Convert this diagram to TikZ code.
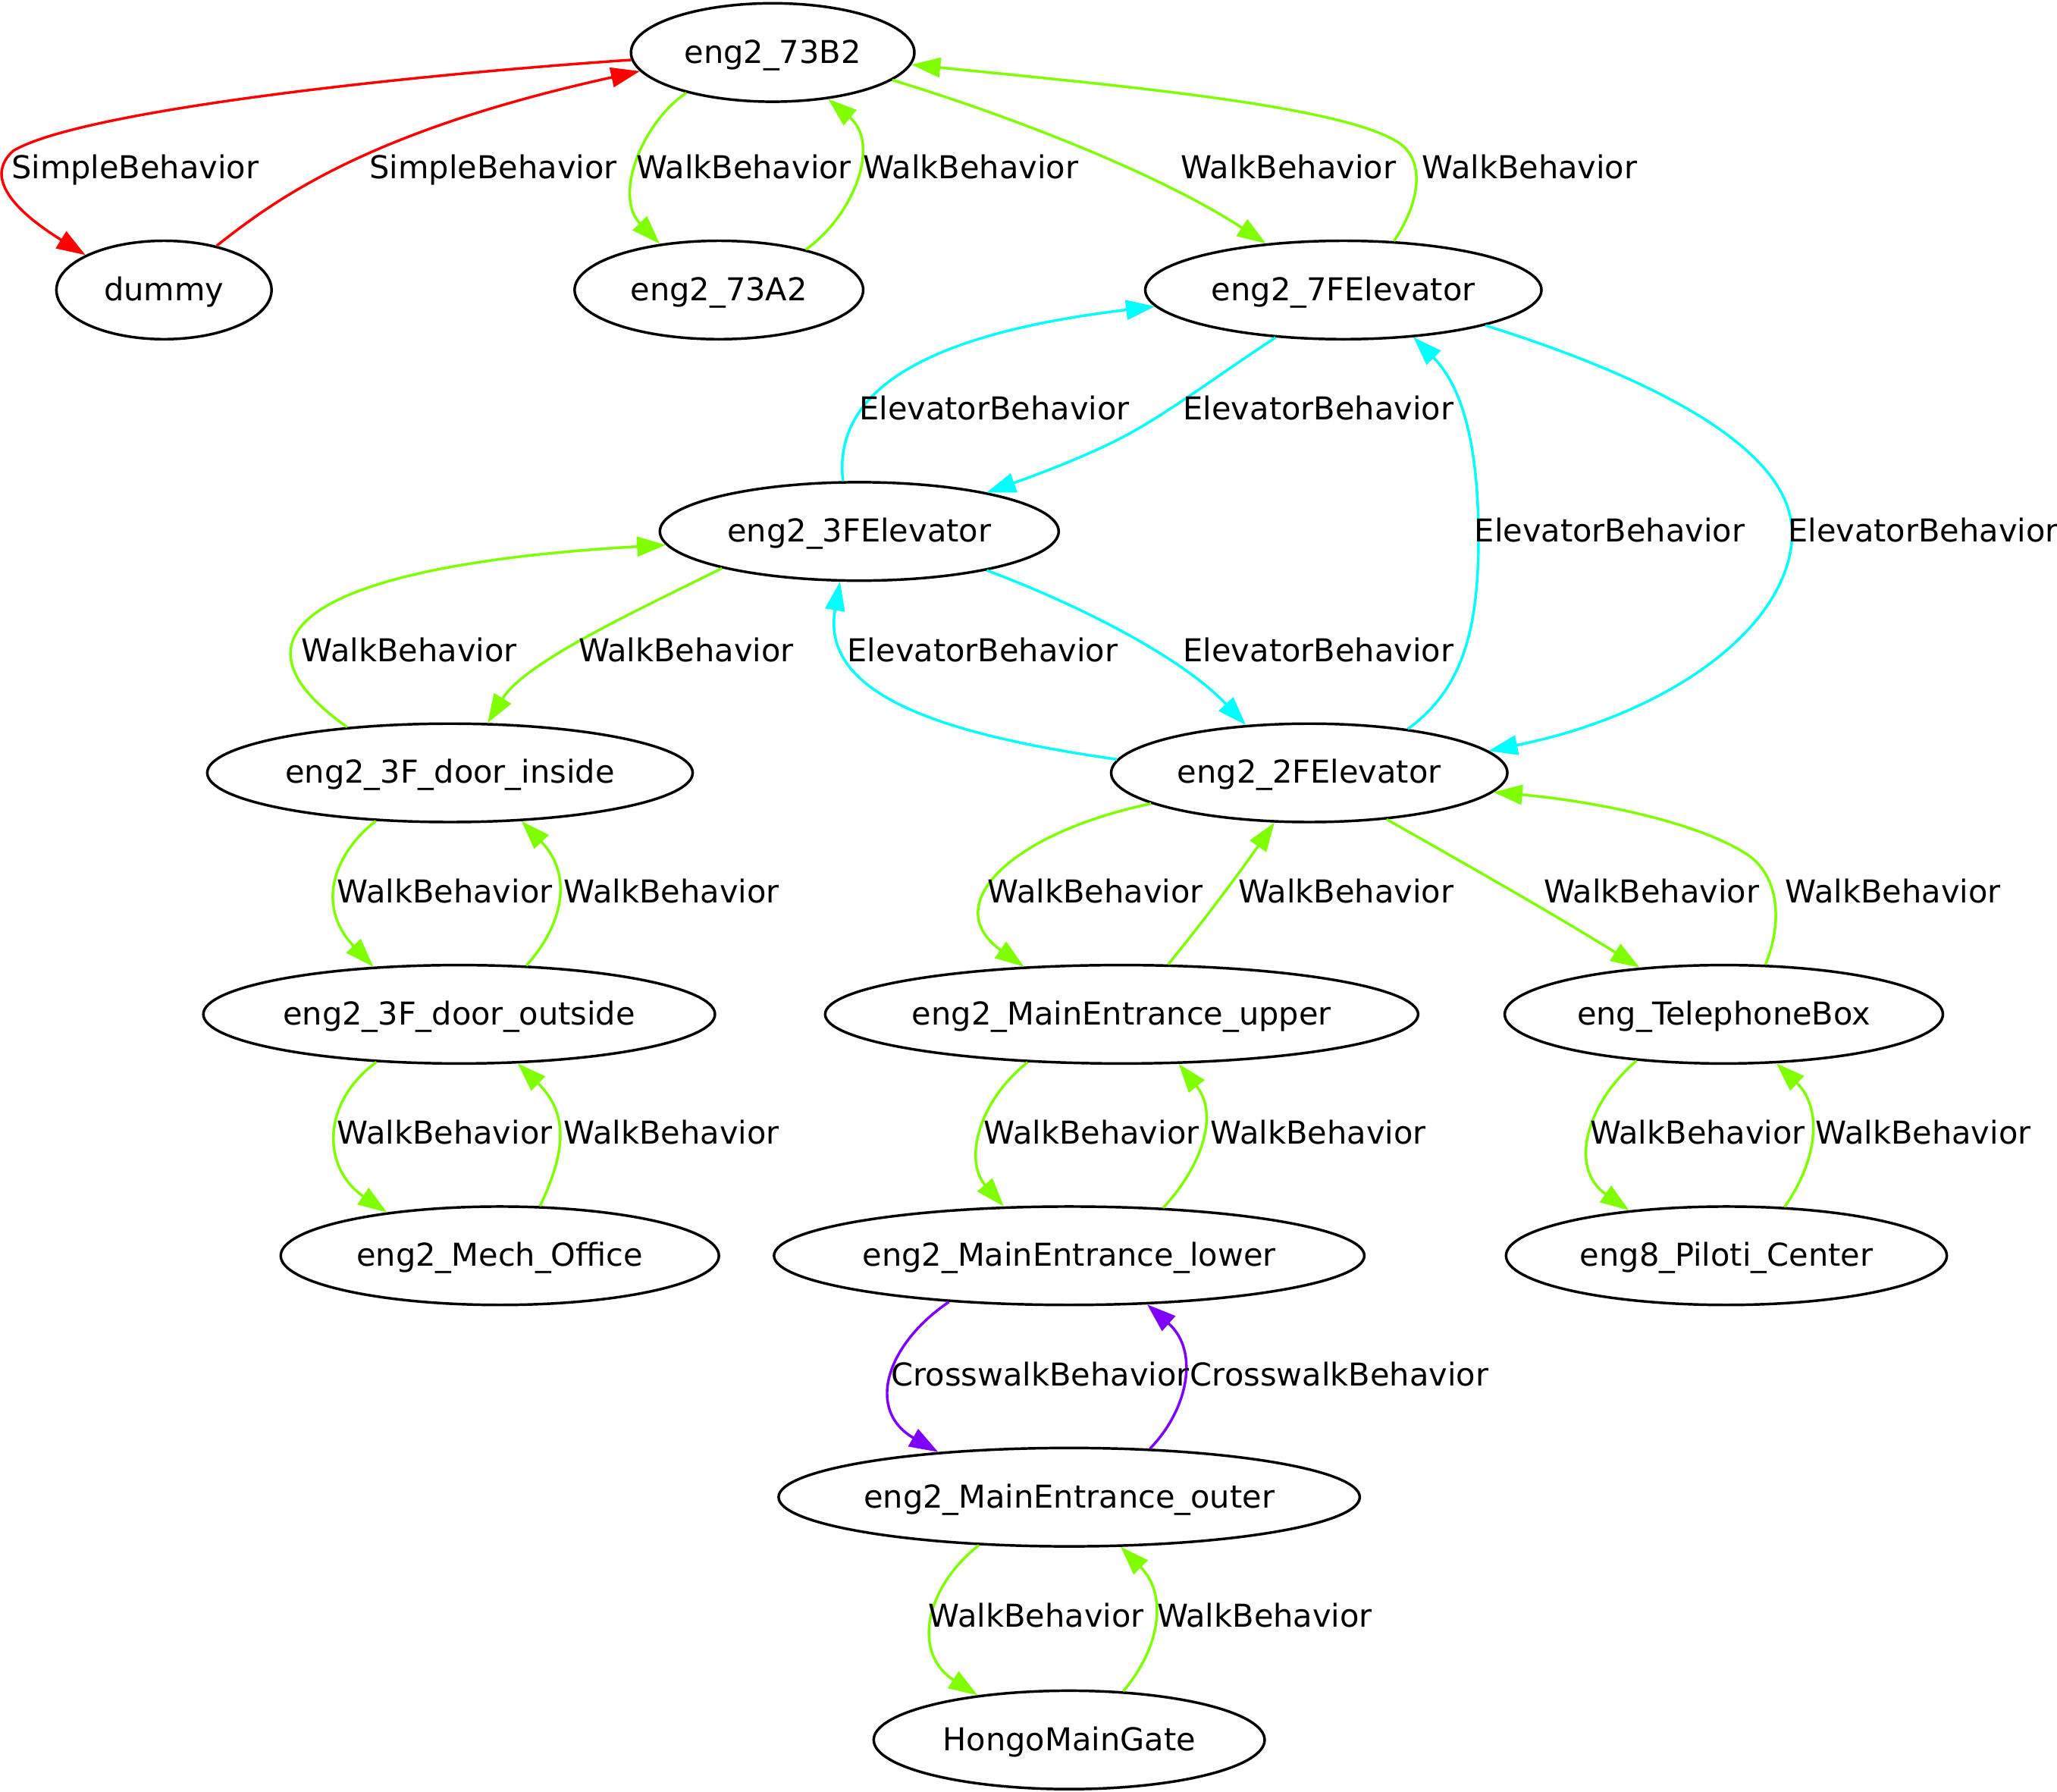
\documentclass[tikz,border=0pt]{standalone}
\usepackage{fontspec}
\setmainfont{DejaVu Sans}
\usetikzlibrary{arrows.meta,shapes.geometric}
\definecolor{gvred}{RGB}{255,0,0}
\definecolor{gvgreen}{RGB}{127,255,0}
\definecolor{gvcyan}{RGB}{0,255,255}
\definecolor{gvpurple}{RGB}{127,0,255}
\begin{document}
\begin{tikzpicture}[x=0.5pt,y=-0.5pt,
  st/.style={ellipse,draw,line width=1pt,inner sep=0pt,minimum height=37.5pt,
    font=\fontsize{12}{14}\selectfont,text height=10pt,text depth=2pt},
  lbl/.style={inner sep=0pt,font=\fontsize{12}{14}\selectfont,text height=10pt,text depth=2pt},
  conn/.style={line width=1pt,-{Triangle[length=11pt,width=7.5pt]}},
  rd/.style={conn,gvred},
  gr/.style={conn,gvgreen},
  cy/.style={conn,gvcyan},
  pu/.style={conn,gvpurple}]
\path[fill=white,use as bounding box] (0,0) rectangle (1568,1365.7);
% nodes
\node[st,minimum width=108pt] (n73B2) at (589,40) {eng2\_73B2};
\node[st,minimum width=82pt] (dummy) at (125,221) {dummy};
\node[st,minimum width=110pt] (n73A2) at (548,221) {eng2\_73A2};
\node[st,minimum width=151pt] (n7F) at (1024,221) {eng2\_7FElevator};
\node[st,minimum width=152pt] (n3F) at (655,405) {eng2\_3FElevator};
\node[st,minimum width=185pt] (din) at (343,589) {eng2\_3F\_door\_inside};
\node[st,minimum width=151pt] (n2F) at (998,589) {eng2\_2FElevator};
\node[st,minimum width=195pt] (dout) at (350,773) {eng2\_3F\_door\_outside};
\node[st,minimum width=225pt] (mup) at (855,773) {eng2\_MainEntrance\_upper};
\node[st,minimum width=167pt] (tel) at (1314,773) {eng\_TelephoneBox};
\node[st,minimum width=167pt] (mech) at (381,957) {eng2\_Mech\_Office};
\node[st,minimum width=225pt] (mlow) at (815,957) {eng2\_MainEntrance\_lower};
\node[st,minimum width=168pt] (pil) at (1316,957) {eng8\_Piloti\_Center};
\node[st,minimum width=221pt] (mout) at (815,1141) {eng2\_MainEntrance\_outer};
\node[st,minimum width=149pt] (hongo) at (815,1326) {HongoMainGate};
% edges
\draw[rd] (n73B2.183) .. controls (300,58) and (60,85) .. (10,115) .. controls (-12,135) and (10,160) .. (dummy.156);
\draw[rd] (dummy.40) .. controls (210,152) and (280,100) .. (n73B2.188);
\draw[gr] (n73B2.205) .. controls (488,95) and (468,150) .. (n73A2.142);
\draw[gr] (n73A2.25) .. controls (650,165) and (672,110) .. (n73B2.320);
\draw[gr] (n73B2.347) .. controls (760,85) and (880,130) .. (n7F.149);
\draw[gr] (n7F.44) .. controls (1085,150) and (1085,120) .. (1065,108) .. controls (1020,80) and (850,65) .. (n73B2.355);
\draw[cy] (n3F.108) .. controls (635,300) and (700,255) .. (n7F.185);
\draw[cy] (n7F.215) .. controls (930,285) and (890,315) .. (858,332) .. controls (830,347) and (790,362) .. (n3F.17);
\draw[cy] (n2F.24) .. controls (1115,525) and (1127,480) .. (1127,410) .. controls (1127,340) and (1115,295) .. (n7F.326);
\draw[cy] (n7F.346) .. controls (1250,285) and (1370,340) .. (1366,410) .. controls (1362,480) and (1270,545) .. (n2F.7);
\draw[gr] (n3F.195) .. controls (480,468) and (400,505) .. (din.53);
\draw[gr] (din.156) .. controls (160,480) and (250,430) .. (n3F.184);
\draw[cy] (n2F.176) .. controls (720,560) and (625,530) .. (n3F.249);
\draw[cy] (n3F.343) .. controls (820,460) and (900,500) .. (n2F.143);
\draw[gr] (din.213) .. controls (255,650) and (240,690) .. (dout.151);
\draw[gr] (dout.36) .. controls (425,710) and (440,670) .. (din.326);
\draw[gr] (dout.210) .. controls (245,840) and (245,890) .. (mech.159);
\draw[gr] (mech.51) .. controls (430,880) and (435,850) .. (dout.320);
\draw[gr] (n2F.191) .. controls (770,635) and (715,690) .. (mup.154);
\draw[gr] (mup.47) .. controls (915,705) and (945,665) .. (n2F.235);
\draw[gr] (n2F.329) .. controls (1120,660) and (1190,700) .. (tel.151);
\draw[gr] (tel.50) .. controls (1360,700) and (1355,665) .. (1330,650) .. controls (1290,625) and (1210,610) .. (n2F.354);
\draw[gr] (mup.207) .. controls (745,840) and (735,885) .. (mlow.143);
\draw[gr] (mlow.27) .. controls (915,890) and (930,850) .. (mup.319);
\draw[gr] (tel.208) .. controls (1210,840) and (1195,890) .. (pil.155);
\draw[gr] (pil.40) .. controls (1385,885) and (1390,845) .. (tel.317);
\draw[pu] (mlow.201) .. controls (675,1025) and (660,1075) .. (mout.161);
\draw[pu] (mout.31) .. controls (905,1075) and (915,1030) .. (mlow.328);
\draw[gr] (mout.208) .. controls (705,1210) and (695,1260) .. (hongo.154);
\draw[gr] (hongo.42) .. controls (885,1255) and (890,1215) .. (mout.316);
% labels
\node[lbl] (l1) at (103,128) {SimpleBehavior};
\node[lbl] (l2) at (376,128) {SimpleBehavior};
\node[lbl] (l3) at (567,128) {WalkBehavior};
\node[lbl] (l4) at (740,128) {WalkBehavior};
\node[lbl] (l5) at (982,128) {WalkBehavior};
\node[lbl] (l6) at (1166,128) {WalkBehavior};
\node[lbl] (l7) at (758,312) {ElevatorBehavior};
\node[lbl] (l8) at (1005,312) {ElevatorBehavior};
\node[lbl] (l9) at (1227,405) {ElevatorBehavior};
\node[lbl] (l10) at (1466,405) {ElevatorBehavior};
\node[lbl] (l11) at (312,496) {WalkBehavior};
\node[lbl] (l12) at (523,496) {WalkBehavior};
\node[lbl] (l13) at (749,496) {ElevatorBehavior};
\node[lbl] (l14) at (1005,496) {ElevatorBehavior};
\node[lbl] (l15) at (339,680) {WalkBehavior};
\node[lbl] (l16) at (512,680) {WalkBehavior};
\node[lbl] (l17) at (835,680) {WalkBehavior};
\node[lbl] (l18) at (1026,680) {WalkBehavior};
\node[lbl] (l19) at (1259,680) {WalkBehavior};
\node[lbl] (l20) at (1443,680) {WalkBehavior};
\node[lbl] (l21) at (339,864) {WalkBehavior};
\node[lbl] (l22) at (512,864) {WalkBehavior};
\node[lbl] (l23) at (832,864) {WalkBehavior};
\node[lbl] (l24) at (1005,864) {WalkBehavior};
\node[lbl] (l25) at (1294,864) {WalkBehavior};
\node[lbl] (l26) at (1466,864) {WalkBehavior};
\node[lbl] (l27) at (793,1048) {CrosswalkBehavior};
\node[lbl] (l28) at (1021,1048) {CrosswalkBehavior};
\node[lbl] (l29) at (790,1232) {WalkBehavior};
\node[lbl] (l30) at (964,1232) {WalkBehavior};
\end{tikzpicture}
\end{document}
